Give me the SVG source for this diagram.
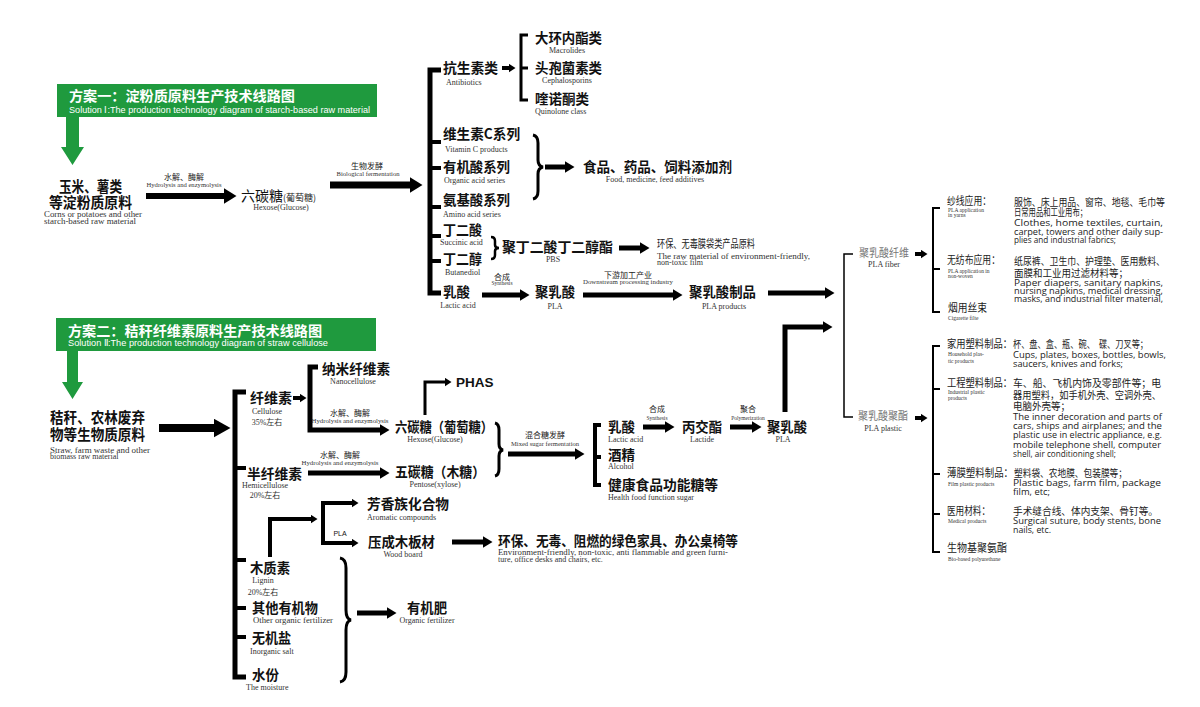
<svg xmlns="http://www.w3.org/2000/svg" width="1200" height="707" viewBox="0 0 1200 707">
<style>
.b{font-family:"Noto Sans CJK SC","Noto Sans",sans-serif;font-weight:700;font-size:14px;fill:#111}
.b15{font-family:"Noto Sans CJK SC","Noto Sans",sans-serif;font-weight:700;font-size:15px;fill:#111}
.r{font-family:"Noto Sans CJK SC","Noto Sans",sans-serif;font-weight:400;font-size:8px;fill:#222}
.e{font-family:"Liberation Serif","Noto Sans CJK SC",serif;font-size:8px;fill:#333}
.es{font-family:"Liberation Serif","Noto Sans CJK SC",serif;font-size:5.5px;fill:#333}
.h{font-family:"Noto Sans CJK SC",sans-serif;font-weight:700;font-size:14px;fill:#fff}
.hs{font-family:"Liberation Sans",Arial,sans-serif;font-size:9px;fill:#fff}
.rl{font-family:"Noto Sans CJK SC",sans-serif;font-size:11px;fill:#222}
.rz{font-family:"Noto Sans CJK SC",sans-serif;font-size:10px;fill:#222}
.re{font-family:"Open Sans","Noto Sans",sans-serif;font-size:9px;fill:#222}
.gray{font-family:"Noto Sans CJK SC",sans-serif;font-size:11px;fill:#777}
.c{text-anchor:middle}
.ln{fill:none;stroke:#000;stroke-linejoin:miter}
</style>
<defs>
<marker id="big" markerUnits="userSpaceOnUse" markerWidth="13" markerHeight="16" refX="0.5" refY="8" orient="auto"><path d="M0,0 L13,8 L0,16 z" fill="#000"/></marker>
<marker id="huge" markerUnits="userSpaceOnUse" markerWidth="17" markerHeight="19" refX="0.5" refY="9.5" orient="auto"><path d="M0,0 L17,9.5 L0,19 z" fill="#000"/></marker>
<marker id="med" markerUnits="userSpaceOnUse" markerWidth="10" markerHeight="12" refX="0.5" refY="6" orient="auto"><path d="M0,0 L10,6 L0,12 z" fill="#000"/></marker>
<marker id="sm" markerUnits="userSpaceOnUse" markerWidth="7" markerHeight="9" refX="0.5" refY="4.5" orient="auto"><path d="M0,0 L7,4.5 L0,9 z" fill="#000"/></marker>
</defs>
<rect width="1200" height="707" fill="#fff"/>

<!-- headers -->
<g id="header1">
<rect x="57" y="84" width="320" height="33" fill="#1f9a3e"/>
<text class="h" x="69" y="101" textLength="226" lengthAdjust="spacingAndGlyphs">方案一：淀粉质原料生产技术线路图</text>
<text class="hs" x="69" y="113" textLength="301" lengthAdjust="spacingAndGlyphs">Solution Ⅰ:The production technology diagram of starch-based raw material</text>
<polygon points="66,117 79,117 79,147 84,147 72.5,165 61,147 66,147" fill="#1f9a3e"/>
</g>
<g id="header2">
<rect x="56" y="318" width="320" height="33" fill="#1f9a3e"/>
<text class="h" x="68" y="336" textLength="254" lengthAdjust="spacingAndGlyphs">方案二：秸秆纤维素原料生产技术线路图</text>
<text class="hs" x="68" y="346" textLength="260" lengthAdjust="spacingAndGlyphs">Solution Ⅱ:The production technology diagram of straw cellulose</text>
<polygon points="67,351 78,351 78,382 83,382 72.5,399 62,382 67,382" fill="#1f9a3e"/>
</g>

<!-- connectors -->
<g id="connectors">
<path class="ln" d="M146,196 H224" stroke-width="6" marker-end="url(#big)"/>
<path class="ln" d="M330,185 H410" stroke-width="7" marker-end="url(#big)"/>
<path class="ln" d="M441,70 H430 V293 H441" stroke-width="5"/>
<path class="ln" d="M430,142 H441 M430,168 H441 M430,207 H441 M430,236 H441 M430,261 H441" stroke-width="4"/>
<path class="ln" d="M502,68 H509" stroke-width="4" marker-end="url(#sm)"/>
<path class="ln" d="M528,35 H521 V100 H528 M521,68 H528" stroke-width="3"/>
<path class="ln" d="M533,135 Q538,136 538,143 V160 Q538,166 543,167 Q538,168 538,174 V191 Q538,198 533,199" stroke-width="3"/>
<path class="ln" d="M545,167 H565" stroke-width="5" marker-end="url(#med)"/>
<path class="ln" d="M491,237 Q495,237 495,241 V245 Q495,248 499,248 Q495,248 495,251 V255 Q495,259 491,259" stroke-width="2.5"/>
<path class="ln" d="M619,248 H640" stroke-width="5" marker-end="url(#med)"/>
<path class="ln" d="M482,295 H520" stroke-width="5" marker-end="url(#med)"/>
<path class="ln" d="M583,295 H673" stroke-width="5" marker-end="url(#med)"/>
<path class="ln" d="M768,293 H825" stroke-width="5" marker-end="url(#med)"/>
<path class="ln" d="M853,254 H844 V417 H853" stroke-width="1.5"/>
<path class="ln" d="M915,254 H921" stroke-width="4" marker-end="url(#sm)"/>
<path class="ln" d="M915,418 H921" stroke-width="4" marker-end="url(#sm)"/>
<path class="ln" d="M940,208 H933 V312 H940 M933,269 H940" stroke-width="2"/>
<path class="ln" d="M940,346 H933 V552 H940 M933,389 H940 M933,474 H940 M933,514 H940" stroke-width="2"/>
<path class="ln" d="M159,428 H214" stroke-width="8" marker-end="url(#huge)"/>
<path class="ln" d="M246,392 H235 V677 H246" stroke-width="5"/>
<path class="ln" d="M235,468 H246 M235,560 H246 M235,608 H246 M235,637 H246" stroke-width="4"/>
<path class="ln" d="M293,398 H300" stroke-width="4" marker-end="url(#sm)"/>
<path class="ln" d="M318,367 H310 V430 H380" stroke-width="5" marker-end="url(#med)"/>
<path class="ln" d="M425,415 V382 H445" stroke-width="3" marker-end="url(#sm)"/>
<path class="ln" d="M308,473 H380" stroke-width="5" marker-end="url(#med)"/>
<path class="ln" d="M495,423 Q499,424 499,430 V444 Q499,449 503,450 Q499,451 499,456 V469 Q499,475 495,476" stroke-width="3"/>
<path class="ln" d="M508,454 H575" stroke-width="5" marker-end="url(#med)"/>
<path class="ln" d="M601,425 H595 V485 H601 M595,457 H601" stroke-width="4"/>
<path class="ln" d="M643,427 H665" stroke-width="5" marker-end="url(#med)"/>
<path class="ln" d="M730,427 H752" stroke-width="5" marker-end="url(#med)"/>
<path class="ln" d="M785,412 V327 H823" stroke-width="5" marker-end="url(#med)"/>
<path class="ln" d="M270,557 V519 H311" stroke-width="4" marker-end="url(#sm)"/>
<path class="ln" d="M323,523 V503 H352" stroke-width="4" marker-end="url(#sm)"/>
<path class="ln" d="M323,523 V543 H352" stroke-width="4" marker-end="url(#sm)"/>
<path class="ln" d="M452,542 H483" stroke-width="5" marker-end="url(#med)"/>
<path class="ln" d="M340,558 Q346,559 346,568 V610 Q346,619 351,620 Q346,621 346,630 V672 Q346,681 340,682" stroke-width="3"/>
<path class="ln" d="M357,613 H387" stroke-width="5" marker-end="url(#med)"/>
</g>

<!-- top nodes -->
<g id="n-corn">
<text class="b15 c" x="90.5" y="192" textLength="63" lengthAdjust="spacingAndGlyphs">玉米、薯类</text>
<text class="b15 c" x="90.5" y="208" textLength="83" lengthAdjust="spacingAndGlyphs">等淀粉质原料</text>
<text class="e" x="44" y="217" textLength="98" lengthAdjust="spacingAndGlyphs">Corns or potatoes and other</text>
<text class="e" x="44" y="223.5" textLength="92" lengthAdjust="spacingAndGlyphs">starch-based raw material</text>
</g>
<g id="lbl-hydro1">
<text class="r c" x="184" y="180">水解、酶解</text>
<text class="es c" x="184" y="187" textLength="75" lengthAdjust="spacingAndGlyphs">Hydrolysis and enzymolysis</text>
</g>
<g id="n-hexose1">
<text x="241" y="201"><tspan font-family="Noto Sans CJK SC,sans-serif" font-size="14" fill="#111">六碳糖</tspan><tspan font-family="Noto Sans CJK SC,sans-serif" font-size="9" fill="#222">(葡萄糖)</tspan></text>
<text class="e c" x="281" y="210">Hexose(Glucose)</text>
</g>
<g id="lbl-bio">
<text class="r c" x="367" y="169">生物发酵</text>
<text class="es c" x="368" y="176" textLength="63" lengthAdjust="spacingAndGlyphs">Biological fermentation</text>
</g>
<g id="n-antibiotics">
<text class="b" x="443" y="73" textLength="55" lengthAdjust="spacingAndGlyphs">抗生素类</text>
<text class="e" x="446" y="85">Antibiotics</text>
</g>
<g id="n-macrolides">
<text class="b" x="535" y="43" textLength="67" lengthAdjust="spacingAndGlyphs">大环内酯类</text>
<text class="e c" x="567" y="53">Macrolides</text>
</g>
<g id="n-cephalo">
<text class="b" x="535" y="73" textLength="67" lengthAdjust="spacingAndGlyphs">头孢菌素类</text>
<text class="e c" x="567" y="83">Cephalosporins</text>
</g>
<g id="n-quinolone">
<text class="b" x="535" y="104" textLength="54" lengthAdjust="spacingAndGlyphs">喹诺酮类</text>
<text class="e" x="535" y="114">Quinolone class</text>
</g>
<g id="n-vitc">
<text class="b" x="443" y="139" textLength="77" lengthAdjust="spacingAndGlyphs">维生素C系列</text>
<text class="e" x="445" y="152">Vitamin C products</text>
</g>
<g id="n-organic">
<text class="b" x="443" y="172" textLength="67" lengthAdjust="spacingAndGlyphs">有机酸系列</text>
<text class="e" x="444" y="183">Organic acid series</text>
</g>
<g id="n-amino">
<text class="b" x="443" y="205" textLength="67" lengthAdjust="spacingAndGlyphs">氨基酸系列</text>
<text class="e" x="443" y="217">Amino acid series</text>
</g>
<g id="n-food">
<text class="b" x="583" y="172" textLength="149" lengthAdjust="spacingAndGlyphs">食品、药品、饲料添加剂</text>
<text class="e c" x="655" y="182">Food, medicine, feed additives</text>
</g>
<g id="n-succinic">
<text class="b" x="443" y="235" textLength="39" lengthAdjust="spacingAndGlyphs">丁二酸</text>
<text class="e" x="440" y="245">Succinic acid</text>
</g>
<g id="n-butanediol">
<text class="b" x="443" y="264" textLength="39" lengthAdjust="spacingAndGlyphs">丁二醇</text>
<text class="e" x="445" y="275">Butanediol</text>
</g>
<g id="n-pbs">
<text class="b" x="502" y="252" textLength="111" lengthAdjust="spacingAndGlyphs">聚丁二酸丁二醇酯</text>
<text class="e c" x="553" y="262">PBS</text>
</g>
<g id="n-film">
<text class="rl" x="657" y="248" font-size="9.5" textLength="98" lengthAdjust="spacingAndGlyphs">环保、无毒膜袋类产品原料</text>
<text class="e" x="657" y="259" textLength="153" lengthAdjust="spacingAndGlyphs">The raw material of environment-friendly,</text>
<text class="e" x="657" y="265">non-toxic film</text>
</g>
<g id="n-lactic1">
<text class="b" x="443" y="297" textLength="27" lengthAdjust="spacingAndGlyphs">乳酸</text>
<text class="e c" x="458" y="308">Lactic acid</text>
</g>
<g id="lbl-syn1">
<text class="r c" x="502" y="280">合成</text>
<text class="es c" x="502" y="285">Synthesis</text>
</g>
<g id="n-pla1">
<text class="b" x="535" y="297" textLength="40" lengthAdjust="spacingAndGlyphs">聚乳酸</text>
<text class="e c" x="555" y="309">PLA</text>
</g>
<g id="lbl-down">
<text class="r c" x="628" y="278">下游加工产业</text>
<text class="es c" x="628" y="284" textLength="90" lengthAdjust="spacingAndGlyphs">Downstream processing industry</text>
</g>
<g id="n-plaprod">
<text class="b" x="689" y="297" textLength="67" lengthAdjust="spacingAndGlyphs">聚乳酸制品</text>
<text class="e c" x="724" y="309">PLA products</text>
</g>

<!-- right side -->
<g id="n-plafiber">
<text class="gray" x="859" y="257" textLength="50" lengthAdjust="spacingAndGlyphs">聚乳酸纤维</text>
<text class="e c" x="884" y="267">PLA fiber</text>
</g>
<g id="n-plaplastic">
<text class="gray" x="858" y="420" textLength="50" lengthAdjust="spacingAndGlyphs">聚乳酸聚酯</text>
<text class="e c" x="883" y="431">PLA plastic</text>
</g>
<g id="n-yarn">
<text class="rl" x="947" y="205" textLength="44" lengthAdjust="spacingAndGlyphs">纱线应用：</text>
<text class="es" x="948" y="212">PLA application</text>
<text class="es" x="948" y="217">in yarns</text>
<text class="rz" x="1014" y="206" textLength="151" lengthAdjust="spacingAndGlyphs">服饰、床上用品、窗帘、地毯、毛巾等</text>
<text class="rz" x="1014" y="216" textLength="73" lengthAdjust="spacingAndGlyphs">日常用品和工业用布；</text>
<text class="re" x="1014" y="226" textLength="149" lengthAdjust="spacingAndGlyphs">Clothes, home textiles, curtain,</text>
<text class="re" x="1014" y="234.5" textLength="149" lengthAdjust="spacingAndGlyphs">carpet, towers and other daily sup-</text>
<text class="re" x="1014" y="243" textLength="102" lengthAdjust="spacingAndGlyphs">plies and industrial fabrics;</text>
</g>
<g id="n-nonwoven">
<text class="rl" x="947" y="264" textLength="53" lengthAdjust="spacingAndGlyphs">无纺布应用：</text>
<text class="es" x="948" y="273">PLA application in</text>
<text class="es" x="948" y="278">non-woven</text>
<text class="rz" x="1014" y="265" textLength="151" lengthAdjust="spacingAndGlyphs">纸尿裤、卫生巾、护理垫、医用敷料、</text>
<text class="rz" x="1014" y="277" textLength="114" lengthAdjust="spacingAndGlyphs">面膜和工业用过滤材料等；</text>
<text class="re" x="1014" y="286" textLength="149" lengthAdjust="spacingAndGlyphs">Paper diapers, sanitary napkins,</text>
<text class="re" x="1014" y="294" textLength="149" lengthAdjust="spacingAndGlyphs">nursing napkins, medical dressing,</text>
<text class="re" x="1014" y="302" textLength="149" lengthAdjust="spacingAndGlyphs">masks, and industrial filter material,</text>
</g>
<g id="n-cig">
<text class="rl" x="948" y="312" textLength="39" lengthAdjust="spacingAndGlyphs">烟用丝束</text>
<text class="es" x="948" y="320">Cigarette filte</text>
</g>
<g id="n-household">
<text class="rl" x="947" y="348" textLength="65" lengthAdjust="spacingAndGlyphs">家用塑料制品：</text>
<text class="es" x="948" y="356">Household plas-</text>
<text class="es" x="948" y="363">tic products</text>
<text class="rz" x="1013" y="348" textLength="135" lengthAdjust="spacingAndGlyphs">杯、盘、盒、瓶、碗、　碟、刀叉等；</text>
<text class="re" x="1013" y="358" textLength="153" lengthAdjust="spacingAndGlyphs">Cups, plates, boxes, bottles, bowls,</text>
<text class="re" x="1013" y="367" textLength="110" lengthAdjust="spacingAndGlyphs">saucers, knives  and  forks;</text>
</g>
<g id="n-industrial">
<text class="rl" x="947" y="387" textLength="65" lengthAdjust="spacingAndGlyphs">工程塑料制品：</text>
<text class="es" x="948" y="394">Industrial plastic</text>
<text class="es" x="948" y="400">products</text>
<text class="rz" x="1013" y="387" textLength="148" lengthAdjust="spacingAndGlyphs">车、船、飞机内饰及零部件等；电</text>
<text class="rz" x="1013" y="399" textLength="148" lengthAdjust="spacingAndGlyphs">器用塑料，如手机外壳、空调外壳、</text>
<text class="rz" x="1013" y="410" textLength="57" lengthAdjust="spacingAndGlyphs">电脑外壳等；</text>
<text class="re" x="1013" y="420" textLength="149" lengthAdjust="spacingAndGlyphs">The inner decoration and parts of</text>
<text class="re" x="1013" y="429" textLength="149" lengthAdjust="spacingAndGlyphs">cars, ships and airplanes; and the</text>
<text class="re" x="1013" y="438" textLength="149" lengthAdjust="spacingAndGlyphs">plastic use in electric appliance, e.g.</text>
<text class="re" x="1013" y="447.5" textLength="148" lengthAdjust="spacingAndGlyphs">mobile telephone shell, computer</text>
<text class="re" x="1013" y="456.5" textLength="103" lengthAdjust="spacingAndGlyphs">shell, air conditioning shell;</text>
</g>
<g id="n-filmplastic">
<text class="rl" x="947" y="477" textLength="66" lengthAdjust="spacingAndGlyphs">薄膜塑料制品：</text>
<text class="es" x="948" y="486">Film plastic products</text>
<text class="rz" x="1014" y="477" textLength="113" lengthAdjust="spacingAndGlyphs">塑料袋、农地膜、包装膜等；</text>
<text class="re" x="1013" y="486" textLength="148" lengthAdjust="spacingAndGlyphs">Plastic bags, farm film, package</text>
<text class="re" x="1013" y="494.5" textLength="37" lengthAdjust="spacingAndGlyphs">film, etc;</text>
</g>
<g id="n-medical">
<text class="rl" x="947" y="515" textLength="43" lengthAdjust="spacingAndGlyphs">医用材料：</text>
<text class="es" x="948" y="523">Medical products</text>
<text class="rz" x="1013" y="515" textLength="145" lengthAdjust="spacingAndGlyphs">手术缝合线、体内支架、骨钉等。</text>
<text class="re" x="1013" y="524" textLength="148" lengthAdjust="spacingAndGlyphs">Surgical suture, body stents, bone</text>
<text class="re" x="1013" y="532.5" textLength="38" lengthAdjust="spacingAndGlyphs">nails, etc.</text>
</g>
<g id="n-pu">
<text class="rl" x="947" y="552" textLength="60" lengthAdjust="spacingAndGlyphs">生物基聚氨酯</text>
<text class="es" x="948" y="561">Bio-based polyurethane</text>
</g>

<!-- bottom section nodes -->
<g id="n-straw">
<text class="b15" x="50" y="423" textLength="95" lengthAdjust="spacingAndGlyphs">秸秆、农林废弃</text>
<text class="b15" x="50" y="440" textLength="95" lengthAdjust="spacingAndGlyphs">物等生物质原料</text>
<text class="e" x="50" y="453" textLength="100" lengthAdjust="spacingAndGlyphs">Straw, farm waste and other</text>
<text class="e" x="50" y="459">biomass raw material</text>
</g>
<g id="n-cellulose">
<text class="b" x="250" y="403" textLength="42" lengthAdjust="spacingAndGlyphs">纤维素</text>
<text class="e c" x="267" y="414">Cellulose</text>
<text class="e c" x="267" y="425">35%左右</text>
</g>
<g id="n-nano">
<text class="b" x="322" y="374" textLength="68" lengthAdjust="spacingAndGlyphs">纳米纤维素</text>
<text class="e c" x="353" y="384">Nanocellulose</text>
</g>
<g id="lbl-hydro2">
<text class="r c" x="350" y="416">水解、酶解</text>
<text class="es c" x="350" y="423" textLength="77" lengthAdjust="spacingAndGlyphs">Hydrolysis and enzymolysis</text>
</g>
<g id="n-hexose2">
<text class="b" x="395" y="432" textLength="98" lengthAdjust="spacingAndGlyphs">六碳糖（葡萄糖）</text>
<text class="e c" x="435" y="442">Hexose(Glucose)</text>
</g>
<g id="n-phas">
<text x="456" y="387" font-family="Liberation Sans,Arial,sans-serif" font-weight="700" font-size="13.5" fill="#111">PHAS</text>
</g>
<g id="n-hemi">
<text class="b" x="247" y="479" textLength="55" lengthAdjust="spacingAndGlyphs">半纤维素</text>
<text class="e c" x="265" y="488">Hemicellulose</text>
<text class="e c" x="265" y="498">20%左右</text>
</g>
<g id="lbl-hydro3">
<text class="r c" x="340" y="458">水解、酶解</text>
<text class="es c" x="340" y="465" textLength="77" lengthAdjust="spacingAndGlyphs">Hydrolysis and enzymolysis</text>
</g>
<g id="n-pentose">
<text class="b" x="395" y="477" textLength="90" lengthAdjust="spacingAndGlyphs">五碳糖（木糖）</text>
<text class="e c" x="435" y="487">Pentose(xylose)</text>
</g>
<g id="lbl-mixed">
<text class="r c" x="545" y="438">混合糖发酵</text>
<text class="es c" x="545" y="446" textLength="68" lengthAdjust="spacingAndGlyphs">Mixed sugar fermentation</text>
</g>
<g id="n-lactic2">
<text class="b" x="608" y="432" textLength="27" lengthAdjust="spacingAndGlyphs">乳酸</text>
<text class="e" x="608" y="442">Lactic acid</text>
</g>
<g id="lbl-syn2">
<text class="r c" x="657" y="412">合成</text>
<text class="es c" x="657" y="420">Synthesis</text>
</g>
<g id="n-lactide">
<text class="b" x="682" y="432" textLength="40" lengthAdjust="spacingAndGlyphs">丙交酯</text>
<text class="e c" x="702" y="442">Lactide</text>
</g>
<g id="lbl-poly">
<text class="r c" x="748" y="412">聚合</text>
<text class="es c" x="748" y="420">Polymerization</text>
</g>
<g id="n-pla2">
<text class="b" x="767" y="432" textLength="40" lengthAdjust="spacingAndGlyphs">聚乳酸</text>
<text class="e c" x="783" y="442">PLA</text>
</g>
<g id="n-alcohol">
<text class="b" x="608" y="460" textLength="27" lengthAdjust="spacingAndGlyphs">酒精</text>
<text class="e" x="608" y="469">Alcohol</text>
</g>
<g id="n-health">
<text class="b" x="608" y="490" textLength="110" lengthAdjust="spacingAndGlyphs">健康食品功能糖等</text>
<text class="e" x="608" y="500">Health food function sugar</text>
</g>
<g id="n-lignin">
<text class="b" x="250" y="573" textLength="40" lengthAdjust="spacingAndGlyphs">木质素</text>
<text class="e c" x="263" y="583">Lignin</text>
<text class="e c" x="263" y="595">20%左右</text>
</g>
<g id="n-aromatic">
<text class="b" x="367" y="509" textLength="82" lengthAdjust="spacingAndGlyphs">芳香族化合物</text>
<text class="e" x="367" y="520">Aromatic  compounds</text>
</g>
<g id="lbl-pla">
<text x="340" y="536" font-family="Liberation Sans,Arial,sans-serif" font-size="7" fill="#111" text-anchor="middle">PLA</text>
</g>
<g id="n-woodboard">
<text class="b" x="368" y="547" textLength="67" lengthAdjust="spacingAndGlyphs">压成木板材</text>
<text class="e c" x="403" y="557">Wood board</text>
</g>
<g id="n-furniture">
<text class="b" x="498" y="546" textLength="240" lengthAdjust="spacingAndGlyphs">环保、无毒、阻燃的绿色家具、办公桌椅等</text>
<text class="e" x="498" y="555" textLength="230" lengthAdjust="spacingAndGlyphs">Environment-friendly, non-toxic, anti flammable and green furni-</text>
<text class="e" x="498" y="562">ture, office desks and chairs, etc.</text>
</g>
<g id="n-other">
<text class="b" x="252" y="613" textLength="66" lengthAdjust="spacingAndGlyphs">其他有机物</text>
<text class="e" x="253" y="623" textLength="80" lengthAdjust="spacingAndGlyphs">Other organic fertilizer</text>
</g>
<g id="n-salt">
<text class="b" x="252" y="643" textLength="39" lengthAdjust="spacingAndGlyphs">无机盐</text>
<text class="e" x="250" y="654">Inorganic salt</text>
</g>
<g id="n-water">
<text class="b" x="252" y="680" textLength="27" lengthAdjust="spacingAndGlyphs">水份</text>
<text class="e" x="246" y="690">The moisture</text>
</g>
<g id="n-fertilizer">
<text class="b c" x="427" y="613" textLength="40" lengthAdjust="spacingAndGlyphs">有机肥</text>
<text class="e c" x="427" y="623">Organic fertilizer</text>
</g>
</svg>
